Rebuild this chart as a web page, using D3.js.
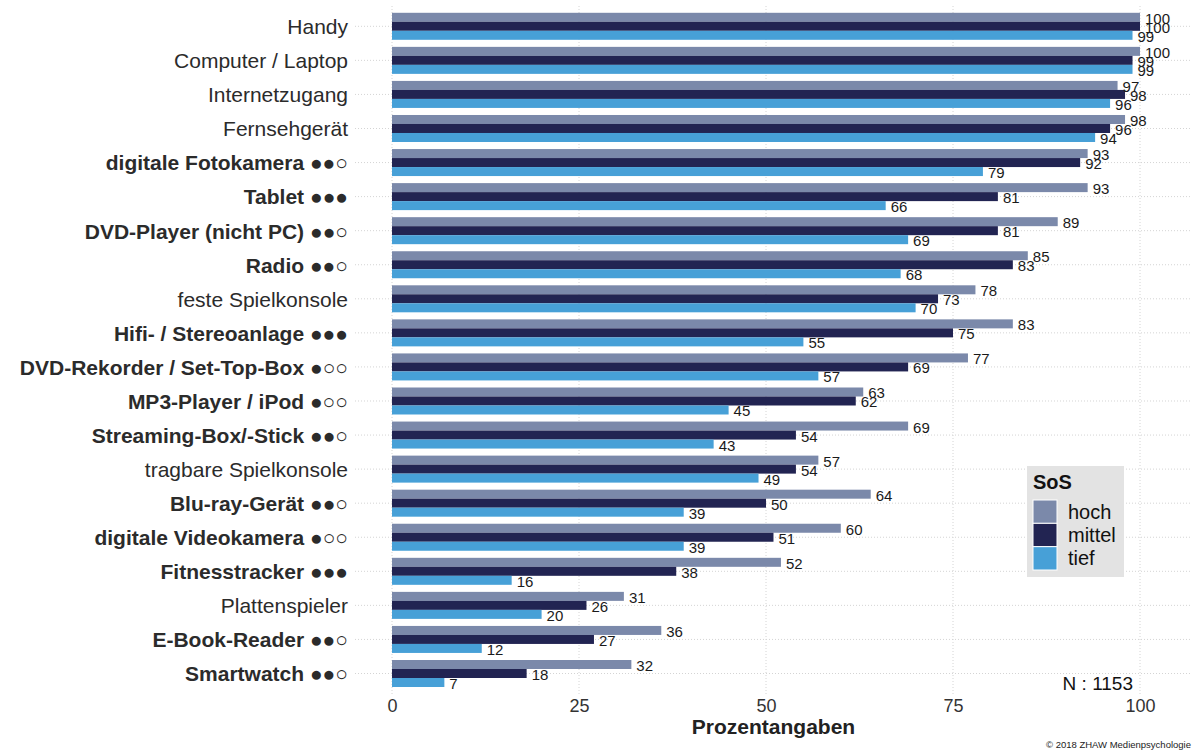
<!DOCTYPE html>
<html>
<head>
<meta charset="utf-8">
<script src="https://cdn.jsdelivr.net/npm/d3@7"></script>
<style>
  html, body { margin: 0; padding: 0; background: #fff; }
  svg { display: block; font-family: "Liberation Sans", Arial, sans-serif; }
</style>
</head>
<body>
<svg id="chart" width="1192" height="751"></svg>
<script>
const categories = [
  "Handy", "Computer / Laptop", "Internetzugang", "Fernsehgerät",
  "digitale Fotokamera ●●○", "Tablet ●●●", "DVD-Player (nicht PC) ●●○", "Radio ●●○",
  "feste Spielkonsole", "Hifi- / Stereoanlage ●●●", "DVD-Rekorder / Set-Top-Box ●○○",
  "MP3-Player / iPod ●○○", "Streaming-Box/-Stick ●●○", "tragbare Spielkonsole",
  "Blu-ray-Gerät ●●○", "digitale Videokamera ●○○", "Fitnesstracker ●●●",
  "Plattenspieler", "E-Book-Reader ●●○", "Smartwatch ●●○"
];
const boldCategories = [
  "digitale Fotokamera ●●○", "Tablet ●●●", "DVD-Player (nicht PC) ●●○", "Radio ●●○",
  "Hifi- / Stereoanlage ●●●", "DVD-Rekorder / Set-Top-Box ●○○", "MP3-Player / iPod ●○○",
  "Streaming-Box/-Stick ●●○", "Blu-ray-Gerät ●●○", "digitale Videokamera ●○○",
  "Fitnesstracker ●●●", "E-Book-Reader ●●○", "Smartwatch ●●○"
];
const series = ["hoch", "mittel", "tief"];
const hoch   = [100, 100, 97, 98, 93, 93, 89, 85, 78, 83, 77, 63, 69, 57, 64, 60, 52, 31, 36, 32];
const mittel = [100, 99, 98, 96, 92, 81, 81, 83, 73, 75, 69, 62, 54, 54, 50, 51, 38, 26, 27, 18];
const tief   = [99, 99, 96, 94, 79, 66, 69, 68, 70, 55, 57, 45, 43, 49, 39, 39, 16, 20, 12, 7];
const xTicks = [0, 25, 50, 75, 100];
const seriesColors = ["#7b89aa", "#222452", "#47a0d7"];
const legendTitle = "SoS";
const xTitle = "Prozentangaben";
const nLabel = "N : 1153";
const credit = "© 2018 ZHAW Medienpsychologie";

const valuesBySeries = { hoch, mittel, tief };
const rows = [];
categories.forEach((c, i) => series.forEach(s => rows.push({ cat: c, s, v: valuesBySeries[s][i] })));

const svg = d3.select("#chart");
const x = d3.scaleLinear().domain([0, 100]).range([392, 1140]);
const y = d3.scalePoint().domain(categories).range([26.3, 673.5]);
const inner = d3.scaleBand().domain(series).range([-13.5, 13.5]);
const color = d3.scaleOrdinal().domain(series).range(seriesColors);

const panelLeft = 355, panelRight = 1192, panelTop = 6, panelBottom = 694;

// gridlines
const grid = svg.append("g").attr("stroke", "#d4d4d4").attr("stroke-width", 1).attr("stroke-dasharray", "1,2");
grid.selectAll("line.v").data(xTicks).join("line")
  .attr("x1", d => x(d)).attr("x2", d => x(d))
  .attr("y1", panelTop).attr("y2", panelBottom);
grid.selectAll("line.h").data(categories).join("line")
  .attr("x1", panelLeft).attr("x2", panelRight)
  .attr("y1", d => y(d)).attr("y2", d => y(d));

// bars
svg.append("g").selectAll("rect").data(rows).join("rect")
  .attr("x", x(0))
  .attr("y", d => y(d.cat) + inner(d.s))
  .attr("width", d => x(d.v) - x(0))
  .attr("height", inner.bandwidth())
  .attr("fill", d => color(d.s));

// value labels
svg.append("g").selectAll("text").data(rows).join("text")
  .attr("x", d => x(d.v) + 5)
  .attr("y", d => y(d.cat) + inner(d.s) + inner.bandwidth() / 2 + 6.5)
  .attr("font-size", 15)
  .attr("fill", "#1a1a1a")
  .text(d => d.v);

// category labels
const yAxis = d3.axisLeft(y).tickSize(0).tickPadding(0);
const yg = svg.append("g").attr("transform", "translate(348,0)").call(yAxis);
yg.select(".domain").remove();
yg.selectAll("text")
  .attr("font-size", 21)
  .attr("font-family", "'Liberation Sans', Arial, sans-serif")
  .attr("fill", "#2b2b2b")
  .attr("dy", "0.35em")
  .attr("font-weight", d => boldCategories.includes(d) ? "bold" : "normal");

// x axis
const xAxis = d3.axisBottom(x).tickValues(xTicks).tickSize(0).tickPadding(0);
const xg = svg.append("g").attr("transform", "translate(0,699)").call(xAxis);
xg.select(".domain").remove();
xg.selectAll("text")
  .attr("font-size", 18)
  .attr("font-family", "'Liberation Sans', Arial, sans-serif")
  .attr("fill", "#333")
  .attr("dy", "0.71em");

svg.append("text")
  .attr("x", (panelLeft + panelRight) / 2).attr("y", 734)
  .attr("text-anchor", "middle").attr("font-size", 21).attr("font-weight", "bold")
  .attr("fill", "#222").text(xTitle);

svg.append("text")
  .attr("x", 1133).attr("y", 690)
  .attr("text-anchor", "end").attr("font-size", 19)
  .attr("fill", "#111").text(nLabel);

svg.append("text")
  .attr("x", 1191).attr("y", 748)
  .attr("text-anchor", "end").attr("font-size", 9.5)
  .attr("fill", "#222").text(credit);

// legend
const lg = svg.append("g");
lg.append("rect").attr("x", 1027).attr("y", 466).attr("width", 97).attr("height", 111).attr("fill", "#e3e3e3");
lg.append("text").attr("x", 1033).attr("y", 489).attr("font-size", 20).attr("font-weight", "bold")
  .attr("fill", "#111").text(legendTitle);
const ly = d3.scaleBand().domain(series).range([500, 570]);
lg.selectAll("rect.key").data(series).join("rect")
  .attr("class", "key")
  .attr("x", 1033).attr("y", d => ly(d)).attr("width", 24).attr("height", ly.bandwidth())
  .attr("fill", d => color(d)).attr("stroke", "#fff").attr("stroke-width", 1);
lg.selectAll("text.lab").data(series).join("text")
  .attr("class", "lab")
  .attr("x", 1068).attr("y", d => ly(d) + ly.bandwidth() / 2 + 7)
  .attr("font-size", 20).attr("fill", "#111").text(d => d);
</script>
</body>
</html>
